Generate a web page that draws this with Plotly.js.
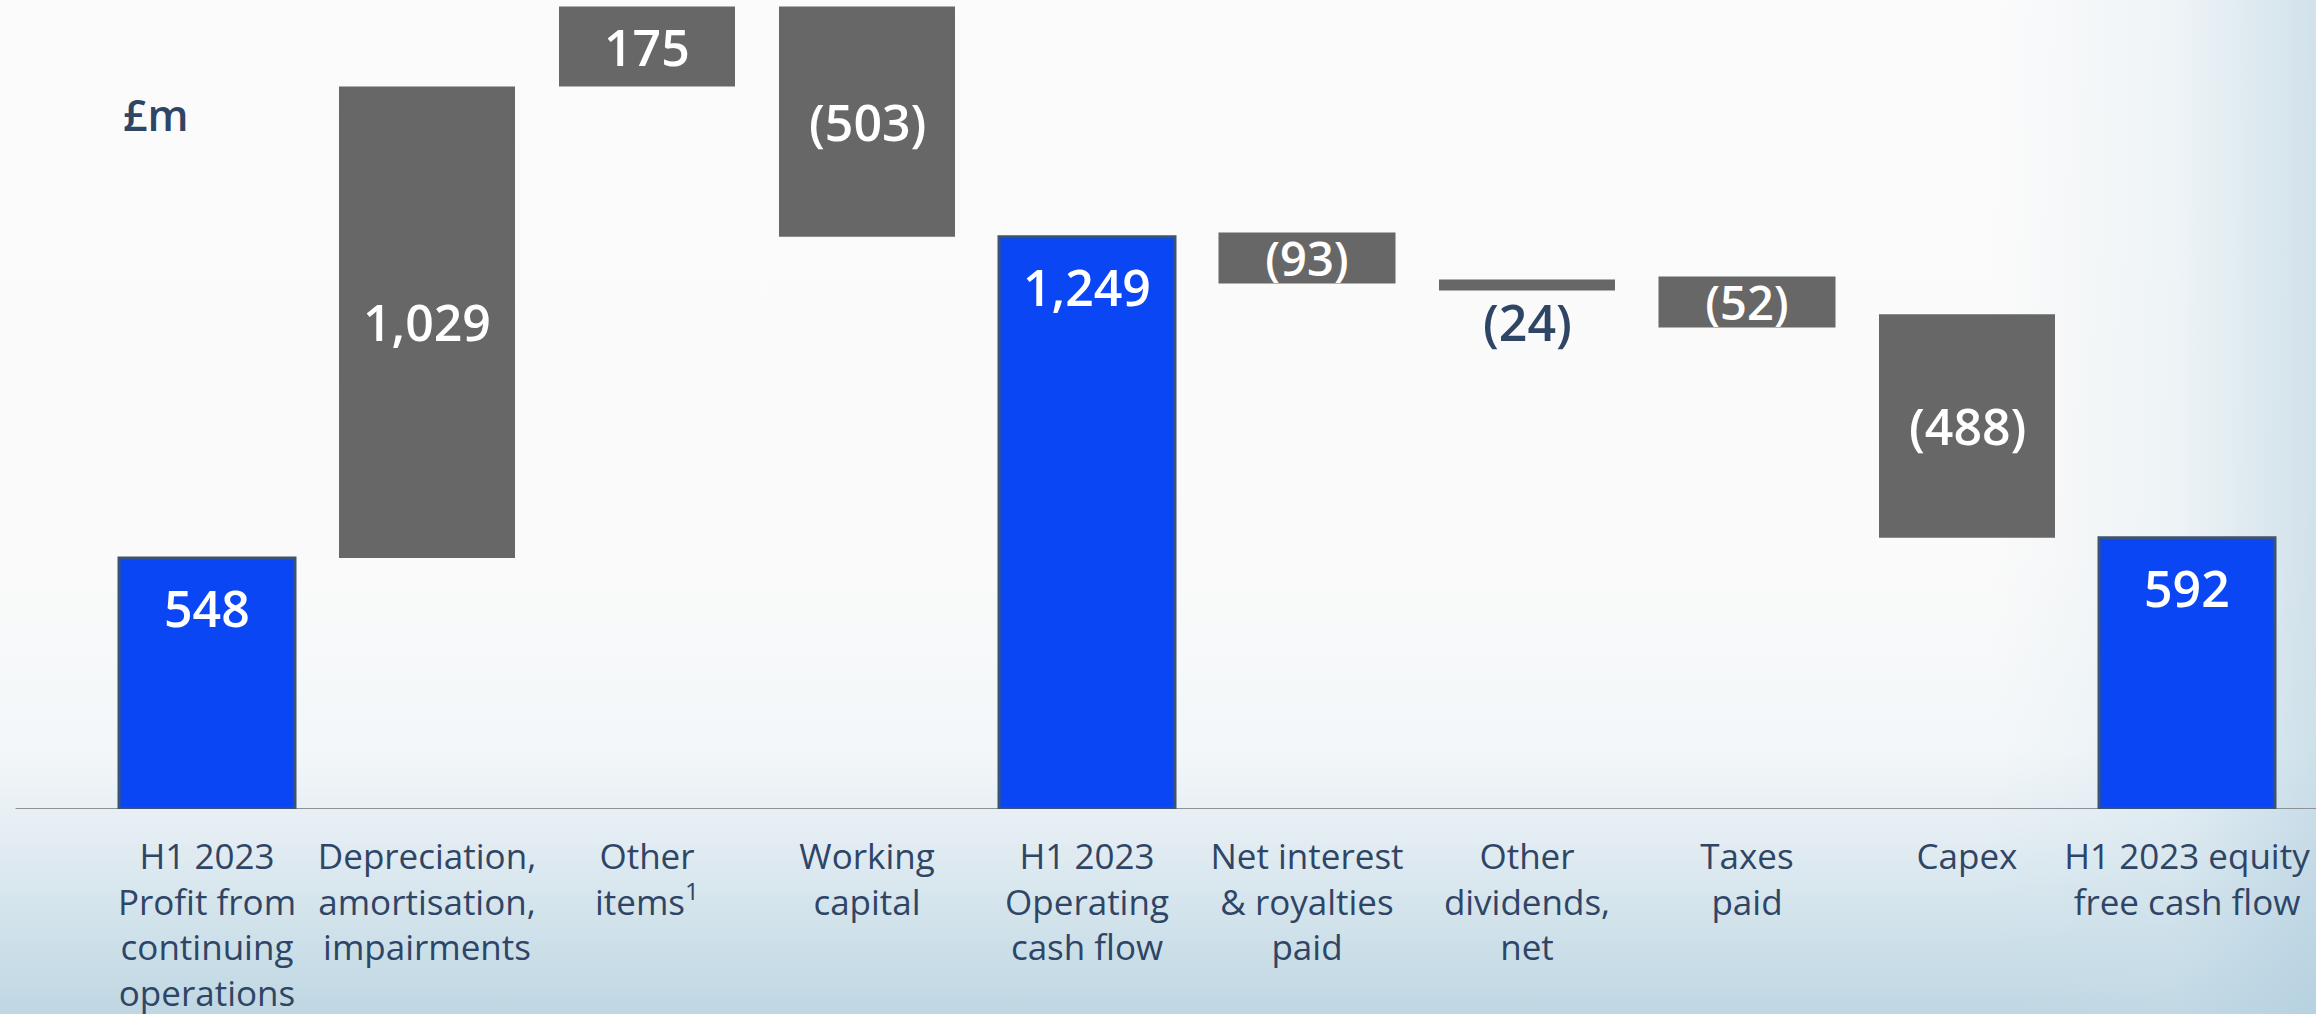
<!DOCTYPE html>
<html>
<head>
<meta charset="utf-8">
<script src="https://cdn.plot.ly/plotly-3.0.1.min.js"></script>
<style>
  html, body { margin: 0; padding: 0; }
  body {
    width: 2316px; height: 1014px; overflow: hidden;
    background:
      linear-gradient(to left, rgba(175,205,222,0.55) 0%, rgba(200,222,234,0.25) 6%, rgba(255,255,255,0) 14%),
      linear-gradient(to bottom, #fbfbfb 0%, #fafafa 55%, #f3f7f9 74%, #e2ecf2 83%, #cfe1ea 92%, #bfd7e3 100%);
  }
  #chart { width: 2316px; height: 1014px; }
</style>
</head>
<body>
<div id="chart"></div>
<script>
// ---- Data ----
const categories = [
  "H1 2023<br>Profit from<br>continuing<br>operations",
  "Depreciation,<br>amortisation,<br>impairments",
  "Other<br>items<sup>1</sup>",
  "Working<br>capital",
  "H1 2023<br>Operating<br>cash flow",
  "Net interest<br>& royalties<br>paid",
  "Other<br>dividends,<br>net",
  "Taxes<br>paid",
  "Capex",
  "H1 2023 equity<br>free cash flow"
];
const values = [548, 1029, 175, -503, 1249, -93, -24, -52, -488, 592];
const kinds = ["total", "delta", "delta", "delta", "total", "delta", "delta", "delta", "delta", "total"];
const unitLabel = "£m";

// ---- Build waterfall pieces ----
function fmt(v) {
  const s = Math.abs(v).toLocaleString("en-GB");
  return v < 0 ? "(" + s + ")" : s;
}
const tot = {x: [], y: [], text: []};
const del = {x: [], y: [], base: [], text: []};
let running = 0;
values.forEach((v, i) => {
  if (kinds[i] === "total") {
    tot.x.push(categories[i]); tot.y.push(v); tot.text.push(fmt(v));
    running = v;
  } else {
    del.x.push(categories[i]); del.base.push(running); del.y.push(v);
    del.text.push(fmt(v));
    running += v;
  }
});

const navy = "#2f4566";
const grey = "#676767";
const valueFont = {family: "Open Sans", size: 50, weight: 600};
const barPx = 2200 / categories.length * 0.8;

const traces = [
  {
    type: "bar", x: tot.x, y: tot.y,
    marker: {color: "#0a46f3", line: {color: "#3c5472", width: 3}},
    hoverinfo: "skip", cliponaxis: false
  },
  {
    type: "bar", x: del.x, y: del.y, base: del.base,
    marker: {color: grey, line: {width: 0}},
    hoverinfo: "skip", cliponaxis: false
  }
];

const annotations = [];
tot.x.forEach((c, i) => annotations.push({
  x: c, y: tot.y[i], xref: "x", yref: "y",
  text: tot.text[i], showarrow: false, yshift: -50,
  font: Object.assign({color: "#ffffff"}, valueFont)
}));
del.x.forEach((c, i) => {
  const v = del.y[i], b = del.base[i];
  const tiny = Math.abs(v) < 40;
  const tight = !tiny && Math.abs(v) < 130;
  const a = {
    x: c, xref: "x", yref: "y",
    y: tiny ? b + v : b + v / 2,
    yshift: tiny ? -32 : 0,
    text: del.text[i], showarrow: false,
    font: Object.assign({color: tiny ? navy : "#ffffff"}, valueFont)
  };
  if (tight) {
    Object.assign(a, {bgcolor: grey, width: barPx, height: 50, borderpad: 0, valign: "middle",
      font: Object.assign({}, valueFont, {color: "#ffffff", size: 47})});
  }
  annotations.push(a);
});
annotations.push({
  xref: "paper", yref: "paper", x: 0.011, y: 0.858,
  xanchor: "left", yanchor: "middle",
  text: unitLabel, showarrow: false,
  font: {family: "Open Sans", size: 43, weight: 600, color: navy}
});

const layout = {
  width: 2316, height: 1014,
  margin: {l: 97, r: 19, t: 0, b: 205, pad: 0},
  paper_bgcolor: "rgba(0,0,0,0)", plot_bgcolor: "rgba(0,0,0,0)",
  barmode: "overlay", bargap: 0.2,
  showlegend: false,
  xaxis: {
    type: "category", categoryorder: "array", categoryarray: categories,
    showgrid: false, zeroline: false, showline: false,
    ticks: "outside", ticklen: 17, tickcolor: "rgba(0,0,0,0)",
    tickfont: {family: "Open Sans", size: 35, color: navy},
    fixedrange: true
  },
  yaxis: {
    range: [0, 1766], visible: false, showgrid: false, zeroline: false,
    fixedrange: true
  },
  shapes: [{
    type: "line", xref: "paper", yref: "y", x0: -0.037, x1: 1.01, y0: 0, y1: 0,
    line: {color: "#8c9298", width: 2}, layer: "below"
  }],
  annotations: annotations
};

Plotly.newPlot("chart", traces, layout, {displayModeBar: false, staticPlot: true});
</script>
</body>
</html>
